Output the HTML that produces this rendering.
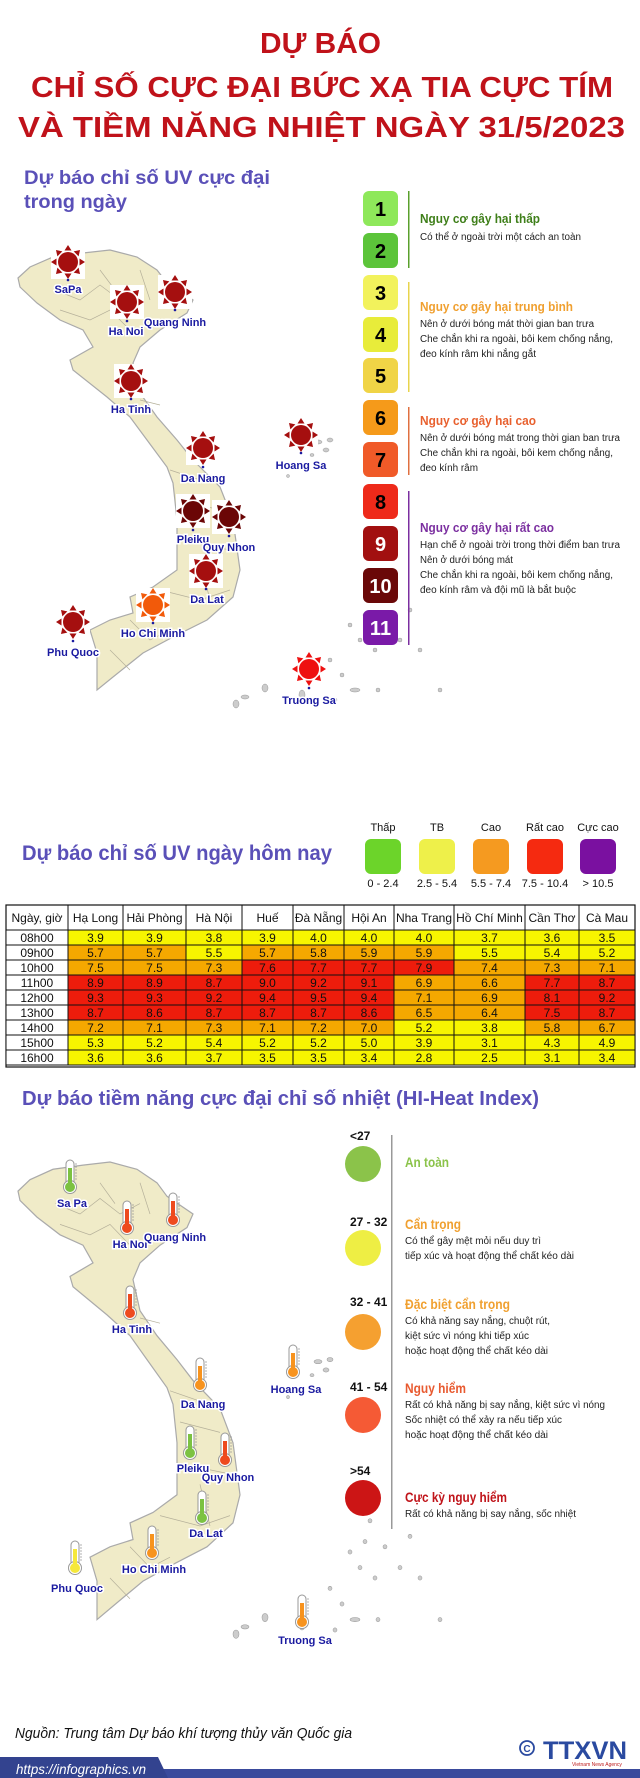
<!DOCTYPE html>
<html><head><meta charset="utf-8"><style>
html,body{margin:0;padding:0;background:#fff}
svg{display:block}
text{font-family:"Liberation Sans",sans-serif}
.t{font-weight:bold;fill:#c0121a;font-size:29px}
.h{font-weight:bold;fill:#5a50b8}
.lb{font-weight:bold;fill:#1a1aa0;font-size:11px;stroke:#fff;stroke-width:3px;paint-order:stroke;text-anchor:middle}
.bd{font-size:10px;fill:#222}
.th{font-size:12px;fill:#111;text-anchor:middle}
.td{font-size:12px;fill:#111;text-anchor:middle}
</style></head><body>
<svg width="640" height="1778" viewBox="0 0 640 1778" xmlns="http://www.w3.org/2000/svg">
<defs>
<g id="sun">
<rect x="-17" y="-17" width="34" height="34" fill="#fff"/>
<circle r="10"/>
<polygon points="0,-17 -3.5,-11.5 3.5,-11.5"/>
<polygon points="0,-17 -3.5,-11.5 3.5,-11.5" transform="rotate(45)"/>
<polygon points="0,-17 -3.5,-11.5 3.5,-11.5" transform="rotate(90)"/>
<polygon points="0,-17 -3.5,-11.5 3.5,-11.5" transform="rotate(135)"/>
<polygon points="0,-17 -3.5,-11.5 3.5,-11.5" transform="rotate(180)"/>
<polygon points="0,-17 -3.5,-11.5 3.5,-11.5" transform="rotate(225)"/>
<polygon points="0,-17 -3.5,-11.5 3.5,-11.5" transform="rotate(270)"/>
<polygon points="0,-17 -3.5,-11.5 3.5,-11.5" transform="rotate(315)"/>
</g>
<g id="thermo">
<rect x="-4" y="-17" width="8" height="26" rx="4" fill="#fff" stroke="#999" stroke-width="1"/>
<circle cy="10" r="6.5" fill="#fff" stroke="#999" stroke-width="1"/>
<circle cy="10" r="5"/>
<rect x="-2" y="-9" width="4" height="18"/>
<path d="M5,-13h2M5,-10h2M5,-7h2M5,-4h2M5,-1h2M5,2h2" stroke="#999" stroke-width="0.8"/>
</g>
<g id="vn">
<polygon fill="#f0ebc8" stroke="#aaa" stroke-width="1.2" points="18,278 30,267 53,257 83,253 110,250 137,257 157,270 167,283 193,300 187,313 160,330 140,347 133,363 140,393 157,417 177,440 193,460 220,487 233,520 240,570 233,597 207,620 173,637 143,653 113,677 97,690 97,653 90,630 110,620 133,613 130,597 153,587 177,570 177,520 173,483 167,467 147,440 130,417 107,397 73,370 70,360 93,347 83,330 60,320 37,303 20,287"/>
<path d="M55,290 L80,300 L100,285 L120,300 L140,290 M60,310 L90,320 L110,310 L130,330 M100,270 L115,290 M140,270 L150,300 M140,400 L160,405 M170,470 L200,480 M180,500 L220,510 M180,540 L230,550 M160,590 L200,600 L230,590 M130,620 L150,640 L170,630 M110,650 L130,670 M200,560 L210,600" stroke="#b5b09a" stroke-width="0.7" fill="none"/>
<g fill="#ccc" stroke="#999" stroke-width="0.5">
<ellipse cx="318" cy="442" rx="4" ry="2"/><ellipse cx="326" cy="450" rx="3" ry="2"/><ellipse cx="330" cy="440" rx="3" ry="2"/><ellipse cx="312" cy="455" rx="2" ry="1.5"/><ellipse cx="288" cy="476" rx="1.5" ry="1.5"/>
<ellipse cx="245" cy="697" rx="4" ry="2"/><ellipse cx="236" cy="704" rx="3" ry="4"/><ellipse cx="265" cy="688" rx="3" ry="4"/><ellipse cx="302" cy="695" rx="3" ry="5"/><ellipse cx="330" cy="660" rx="2" ry="2"/><ellipse cx="342" cy="675" rx="2" ry="2"/><ellipse cx="355" cy="690" rx="5" ry="2"/><ellipse cx="375" cy="650" rx="2" ry="2"/><ellipse cx="360" cy="640" rx="2" ry="2"/><ellipse cx="378" cy="690" rx="2" ry="2"/><ellipse cx="400" cy="640" rx="2" ry="2"/><ellipse cx="420" cy="650" rx="2" ry="2"/><ellipse cx="440" cy="690" rx="2" ry="2"/><ellipse cx="365" cy="615" rx="2" ry="2"/><ellipse cx="385" cy="620" rx="2" ry="2"/><ellipse cx="410" cy="610" rx="2" ry="2"/><ellipse cx="370" cy="595" rx="2" ry="2"/><ellipse cx="350" cy="625" rx="2" ry="2"/><ellipse cx="335" cy="700" rx="2" ry="2"/>
</g>
</g>
</defs>

<!-- Title -->
<text class="t" x="260" y="53" textLength="121" lengthAdjust="spacingAndGlyphs">DỰ BÁO</text>
<text class="t" x="31" y="97" textLength="582" lengthAdjust="spacingAndGlyphs">CHỈ SỐ CỰC ĐẠI BỨC XẠ TIA CỰC TÍM</text>
<text class="t" x="18" y="137" textLength="607" lengthAdjust="spacingAndGlyphs">VÀ TIỀM NĂNG NHIỆT NGÀY 31/5/2023</text>

<text class="h" x="24" y="184" font-size="19" textLength="246" lengthAdjust="spacingAndGlyphs">Dự báo chỉ số UV cực đại</text>
<text class="h" x="24" y="208" font-size="19" textLength="103" lengthAdjust="spacingAndGlyphs">trong ngày</text>

<!-- Map 1 -->
<use href="#vn"/>
<use href="#sun" x="68" y="262" fill="#a50f0f"/>
<use href="#sun" x="127" y="302" fill="#a50f0f"/>
<use href="#sun" x="175" y="292" fill="#a50f0f"/>
<use href="#sun" x="131" y="381" fill="#a50f0f"/>
<use href="#sun" x="203" y="448" fill="#a50f0f"/>
<use href="#sun" x="301" y="435" fill="#a50f0f"/>
<use href="#sun" x="193" y="511" fill="#6b0606"/>
<use href="#sun" x="229" y="517" fill="#6b0606"/>
<use href="#sun" x="206" y="571" fill="#a50f0f"/>
<use href="#sun" x="153" y="605" fill="#f25a0a"/>
<use href="#sun" x="73" y="622" fill="#a50f0f"/>
<use href="#sun" x="309" y="669" fill="#ee1010"/>
<g fill="#1a1aa0">
<circle cx="68" cy="280" r="1.3"/><circle cx="127" cy="321" r="1.3"/><circle cx="175" cy="310" r="1.3"/><circle cx="131" cy="399" r="1.3"/><circle cx="203" cy="467" r="1.3"/><circle cx="301" cy="453" r="1.3"/><circle cx="193" cy="530" r="1.3"/><circle cx="229" cy="536" r="1.3"/><circle cx="206" cy="589" r="1.3"/><circle cx="153" cy="623" r="1.3"/><circle cx="73" cy="641" r="1.3"/><circle cx="309" cy="688" r="1.3"/>
</g>
<text class="lb" x="68" y="293">SaPa</text>
<text class="lb" x="126" y="335">Ha Noi</text>
<text class="lb" x="175" y="326">Quang Ninh</text>
<text class="lb" x="131" y="413">Ha Tinh</text>
<text class="lb" x="203" y="482">Da Nang</text>
<text class="lb" x="301" y="469">Hoang Sa</text>
<text class="lb" x="193" y="543">Pleiku</text>
<text class="lb" x="229" y="551">Quy Nhon</text>
<text class="lb" x="207" y="603">Da Lat</text>
<text class="lb" x="153" y="637">Ho Chi Minh</text>
<text class="lb" x="73" y="656">Phu Quoc</text>
<text class="lb" x="309" y="704">Truong Sa</text>

<!-- UV scale boxes -->
<g font-family="Liberation Sans" font-weight="bold" font-size="20" text-anchor="middle">
<rect x="363" y="191" width="35" height="35" rx="6" fill="#8ee85a"/><text x="380.5" y="216">1</text>
<rect x="363" y="233" width="35" height="35" rx="6" fill="#5cc43a"/><text x="380.5" y="258">2</text>
<rect x="363" y="275" width="35" height="35" rx="6" fill="#f2f25c"/><text x="380.5" y="300">3</text>
<rect x="363" y="317" width="35" height="35" rx="6" fill="#e8ec3a"/><text x="380.5" y="342">4</text>
<rect x="363" y="358" width="35" height="35" rx="6" fill="#f0d446"/><text x="380.5" y="383">5</text>
<rect x="363" y="400" width="35" height="35" rx="6" fill="#f59a1a"/><text x="380.5" y="425">6</text>
<rect x="363" y="442" width="35" height="35" rx="6" fill="#f05a28"/><text x="380.5" y="467">7</text>
<rect x="363" y="484" width="35" height="35" rx="6" fill="#ee2a1a"/><text x="380.5" y="509">8</text>
<rect x="363" y="526" width="35" height="35" rx="6" fill="#a21010"/><text x="380.5" y="551" fill="#fff">9</text>
<rect x="363" y="568" width="35" height="35" rx="6" fill="#6a0808"/><text x="380.5" y="593" fill="#fff">10</text>
<rect x="363" y="610" width="35" height="35" rx="6" fill="#7a1aa8"/><text x="380.5" y="635" fill="#fff">11</text>
</g>
<rect x="408" y="191" width="1.5" height="77" fill="#5aa02c"/>
<rect x="408" y="282" width="1.5" height="110" fill="#e8d44d"/>
<rect x="408" y="407" width="1.5" height="68" fill="#e07040"/>
<rect x="408" y="491" width="1.5" height="154" fill="#7b2fa0"/>
<g font-weight="bold" font-size="13">
<text x="420" y="223" fill="#3f7f1a" textLength="120" lengthAdjust="spacingAndGlyphs">Nguy cơ gây hại thấp</text>
<text x="420" y="311" fill="#f0a030" textLength="153" lengthAdjust="spacingAndGlyphs">Nguy cơ gây hại trung bình</text>
<text x="420" y="425" fill="#e8602e" textLength="116" lengthAdjust="spacingAndGlyphs">Nguy cơ gây hại cao</text>
<text x="420" y="532" fill="#7b2fa0" textLength="134" lengthAdjust="spacingAndGlyphs">Nguy cơ gây hại rất cao</text>
</g>
<g class="bd">
<text x="420" y="240" textLength="161" lengthAdjust="spacingAndGlyphs">Có thể ở ngoài trời một cách an toàn</text>
<text x="420" y="327" textLength="174" lengthAdjust="spacingAndGlyphs">Nên ở dưới bóng mát thời gian ban trưa</text>
<text x="420" y="342" textLength="193" lengthAdjust="spacingAndGlyphs">Che chắn khi ra ngoài, bôi kem chống nắng,</text>
<text x="420" y="357" textLength="116" lengthAdjust="spacingAndGlyphs">đeo kính râm khi nắng gắt</text>
<text x="420" y="441" textLength="200" lengthAdjust="spacingAndGlyphs">Nên ở dưới bóng mát trong thời gian ban trưa</text>
<text x="420" y="456" textLength="193" lengthAdjust="spacingAndGlyphs">Che chắn khi ra ngoài, bôi kem chống nắng,</text>
<text x="420" y="471" textLength="58" lengthAdjust="spacingAndGlyphs">đeo kính râm</text>
<text x="420" y="548" textLength="200" lengthAdjust="spacingAndGlyphs">Hạn chế ở ngoài trời trong thời điểm ban trưa</text>
<text x="420" y="563" textLength="93" lengthAdjust="spacingAndGlyphs">Nên ở dưới bóng mát</text>
<text x="420" y="578" textLength="193" lengthAdjust="spacingAndGlyphs">Che chắn khi ra ngoài, bôi kem chống nắng,</text>
<text x="420" y="593" textLength="156" lengthAdjust="spacingAndGlyphs">đeo kính râm và đội mũ là bắt buộc</text>
</g>

<!-- UV today -->
<text class="h" x="22" y="860" font-size="21" textLength="310" lengthAdjust="spacingAndGlyphs">Dự báo chỉ số UV ngày hôm nay</text>
<g font-size="11" text-anchor="middle" fill="#111">
<text x="383" y="831">Thấp</text><text x="437" y="831">TB</text><text x="491" y="831">Cao</text><text x="545" y="831">Rất cao</text><text x="598" y="831">Cực cao</text>
<rect x="365" y="839" width="36" height="35" rx="6" fill="#6cd42a"/>
<rect x="419" y="839" width="36" height="35" rx="6" fill="#eef04a"/>
<rect x="473" y="839" width="36" height="35" rx="6" fill="#f59a20"/>
<rect x="527" y="839" width="36" height="35" rx="6" fill="#f52a10"/>
<rect x="580" y="839" width="36" height="35" rx="6" fill="#7a10a0"/>
<text x="383" y="887">0 - 2.4</text><text x="437" y="887">2.5 - 5.4</text><text x="491" y="887">5.5 - 7.4</text><text x="545" y="887">7.5 - 10.4</text><text x="598" y="887">&gt; 10.5</text>
</g>

<!-- Table -->
<g id="table">
<rect x="6" y="905" width="629" height="162" fill="#fff" stroke="#111" stroke-width="1.2"/>
<g class="th">
<text x="37" y="922">Ngày, giờ</text><text x="95.5" y="922">Hạ Long</text><text x="154.5" y="922">Hải Phòng</text><text x="214" y="922">Hà Nội</text><text x="267.5" y="922">Huế</text><text x="318.5" y="922">Đà Nẵng</text><text x="369" y="922">Hội An</text><text x="424" y="922">Nha Trang</text><text x="489.5" y="922">Hồ Chí Minh</text><text x="552" y="922">Cần Thơ</text><text x="607" y="922">Cà Mau</text>
</g>
</g>
<g id="rows"></g>

<!-- Heat index -->
<text class="h" x="22" y="1105" font-size="20" textLength="517" lengthAdjust="spacingAndGlyphs">Dự báo tiềm năng cực đại chỉ số nhiệt (HI-Heat Index)</text>
<g transform="translate(0,902) scale(1,1.04)"><use href="#vn"/></g>
<use href="#thermo" x="70" y="1177" fill="#7cc242"/>
<use href="#thermo" x="127" y="1218" fill="#ee4a1e"/>
<use href="#thermo" x="173" y="1210" fill="#ee4a1e"/>
<use href="#thermo" x="130" y="1303" fill="#ee4a1e"/>
<use href="#thermo" x="200" y="1375" fill="#f7931e"/>
<use href="#thermo" x="293" y="1362" fill="#f7931e"/>
<use href="#thermo" x="190" y="1443" fill="#7cc242"/>
<use href="#thermo" x="225" y="1450" fill="#ee4a1e"/>
<use href="#thermo" x="202" y="1508" fill="#7cc242"/>
<use href="#thermo" x="152" y="1543" fill="#f7931e"/>
<use href="#thermo" x="75" y="1558" fill="#f5e83a"/>
<use href="#thermo" x="302" y="1612" fill="#f7931e"/>
<text class="lb" x="72" y="1207">Sa Pa</text>
<text class="lb" x="130" y="1248">Ha Noi</text>
<text class="lb" x="175" y="1241">Quang Ninh</text>
<text class="lb" x="132" y="1333">Ha Tinh</text>
<text class="lb" x="203" y="1408">Da Nang</text>
<text class="lb" x="296" y="1393">Hoang Sa</text>
<text class="lb" x="193" y="1472">Pleiku</text>
<text class="lb" x="228" y="1481">Quy Nhon</text>
<text class="lb" x="206" y="1537">Da Lat</text>
<text class="lb" x="154" y="1573">Ho Chi Minh</text>
<text class="lb" x="77" y="1592">Phu Quoc</text>
<text class="lb" x="305" y="1644">Truong Sa</text>

<rect x="391" y="1135" width="1.5" height="394" fill="#999"/>
<g font-weight="bold" font-size="12" fill="#111">
<text x="350" y="1140">&lt;27</text><text x="350" y="1226">27 - 32</text><text x="350" y="1306">32 - 41</text><text x="350" y="1391">41 - 54</text><text x="350" y="1475">&gt;54</text>
</g>
<circle cx="363" cy="1164" r="18" fill="#8bc34a"/>
<circle cx="363" cy="1248" r="18" fill="#eeee44"/>
<circle cx="363" cy="1332" r="18" fill="#f5a030"/>
<circle cx="363" cy="1415" r="18" fill="#f55a35"/>
<circle cx="363" cy="1498" r="18" fill="#cc1515"/>
<g font-weight="bold" font-size="14">
<text x="405" y="1167" fill="#8bc34a" textLength="44" lengthAdjust="spacingAndGlyphs">An toàn</text>
<text x="405" y="1229" fill="#f0a030" textLength="56" lengthAdjust="spacingAndGlyphs">Cẩn trọng</text>
<text x="405" y="1309" fill="#f0a030" textLength="105" lengthAdjust="spacingAndGlyphs">Đặc biệt cẩn trọng</text>
<text x="405" y="1393" fill="#e85a30" textLength="61" lengthAdjust="spacingAndGlyphs">Nguy hiểm</text>
<text x="405" y="1502" fill="#c0141a" textLength="102" lengthAdjust="spacingAndGlyphs">Cực kỳ nguy hiểm</text>
</g>
<g class="bd">
<text x="405" y="1244" textLength="136" lengthAdjust="spacingAndGlyphs">Có thể gây mệt mỏi nếu duy trì</text>
<text x="405" y="1259" textLength="169" lengthAdjust="spacingAndGlyphs">tiếp xúc và hoạt động thể chất kéo dài</text>
<text x="405" y="1324" textLength="145" lengthAdjust="spacingAndGlyphs">Có khả năng say nắng, chuột rút,</text>
<text x="405" y="1339" textLength="124" lengthAdjust="spacingAndGlyphs">kiệt sức vì nóng khi tiếp xúc</text>
<text x="405" y="1354" textLength="143" lengthAdjust="spacingAndGlyphs">hoặc hoạt động thể chất kéo dài</text>
<text x="405" y="1408" textLength="200" lengthAdjust="spacingAndGlyphs">Rất có khả năng bị say nắng, kiệt sức vì nóng</text>
<text x="405" y="1423" textLength="157" lengthAdjust="spacingAndGlyphs">Sốc nhiệt có thể xảy ra nếu tiếp xúc</text>
<text x="405" y="1438" textLength="143" lengthAdjust="spacingAndGlyphs">hoặc hoạt động thể chất kéo dài</text>
<text x="405" y="1517" textLength="171" lengthAdjust="spacingAndGlyphs">Rất có khả năng bị say nắng, sốc nhiệt</text>
</g>

<!-- Footer -->
<text x="15" y="1738" font-size="15" font-style="italic" fill="#111" textLength="337" lengthAdjust="spacingAndGlyphs">Nguồn: Trung tâm Dự báo khí tượng thủy văn Quốc gia</text>
<circle cx="527" cy="1748" r="7" fill="none" stroke="#2a4aa0" stroke-width="1.8"/>
<text x="527" y="1752" font-size="10" font-weight="bold" fill="#2a4aa0" text-anchor="middle">C</text>
<text x="543" y="1759" font-size="25" font-weight="bold" fill="#2a4aa0" textLength="84" lengthAdjust="spacingAndGlyphs">TTXVN</text>
<text x="572" y="1766" font-size="5" fill="#c02020">Vietnam News Agency</text>
<rect x="0" y="1769" width="640" height="9" fill="#3a4a9c"/>
<polygon points="0,1757 158,1757 168,1778 0,1778" fill="#33438f"/>
<text x="16" y="1774" font-size="14" font-style="italic" fill="#fff" textLength="130" lengthAdjust="spacingAndGlyphs">https://infographics.vn</text>
</svg>
<script>
(function(){
var xs=[6,68,123,186,242,293,344,394,454,525,579,635];
var times=["08h00","09h00","10h00","11h00","12h00","13h00","14h00","15h00","16h00"];
var d=[
[3.9,3.9,3.8,3.9,4.0,4.0,4.0,3.7,3.6,3.5],
[5.7,5.7,5.5,5.7,5.8,5.9,5.9,5.5,5.4,5.2],
[7.5,7.5,7.3,7.6,7.7,7.7,7.9,7.4,7.3,7.1],
[8.9,8.9,8.7,9.0,9.2,9.1,6.9,6.6,7.7,8.7],
[9.3,9.3,9.2,9.4,9.5,9.4,7.1,6.9,8.1,9.2],
[8.7,8.6,8.7,8.7,8.7,8.6,6.5,6.4,7.5,8.7],
[7.2,7.1,7.3,7.1,7.2,7.0,5.2,3.8,5.8,6.7],
[5.3,5.2,5.4,5.2,5.2,5.0,3.9,3.1,4.3,4.9],
[3.6,3.6,3.7,3.5,3.5,3.4,2.8,2.5,3.1,3.4]];
var ns="http://www.w3.org/2000/svg",g=document.getElementById("rows"),s="";
for(var r=0;r<9;r++){var y=930+r*15;
 s+='<rect x="6" y="'+y+'" width="62" height="15" fill="#fff" stroke="#111" stroke-width="1"/>';
 s+='<text class="td" x="37" y="'+(y+12)+'">'+times[r]+'</text>';
 for(var c=0;c<10;c++){var v=d[r][c],col="#f7f500";
  if(v>7.5||(r==5&&v>=7.5))col="#ee1c0c";else if(v>5.5)col="#f5a800";
  s+='<rect x="'+xs[c+1]+'" y="'+y+'" width="'+(xs[c+2]-xs[c+1])+'" height="15" fill="'+col+'" stroke="#111" stroke-width="1"/>';
  s+='<text class="td" x="'+((xs[c+1]+xs[c+2])/2)+'" y="'+(y+12)+'">'+v.toFixed(1)+'</text>';}
}
for(var i=1;i<11;i++)s+='<rect x="'+xs[i]+'" y="905" width="0.01" height="25" stroke="#111" stroke-width="1"/>';
s+='<rect x="6" y="930" width="629" height="0.01" stroke="#111" stroke-width="1"/>';
g.innerHTML=s;
})();
</script>
</body></html>
